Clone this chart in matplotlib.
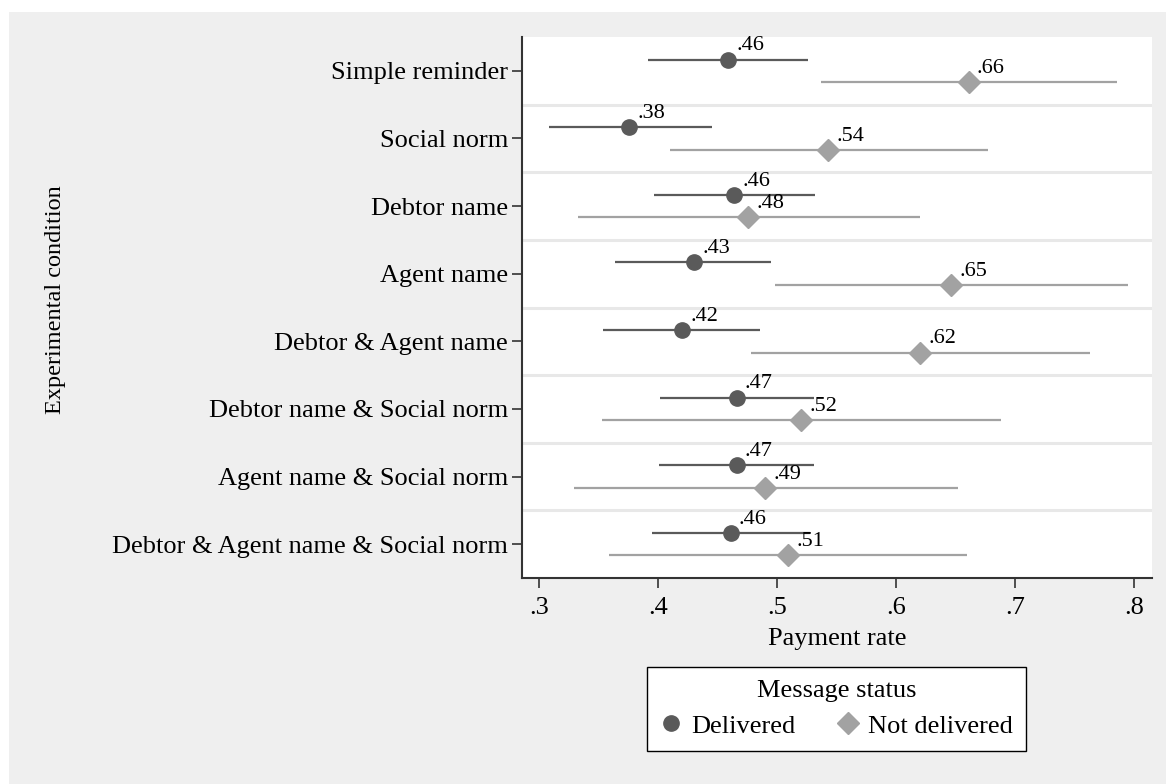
# Payment rate by experimental condition, split by message delivery status

import numpy as np
import matplotlib.pyplot as plt
from matplotlib.patches import Rectangle

plt.rcParams['font.family'] = ['Liberation Serif', 'DejaVu Serif']

# Point estimates and 95% confidence bounds
conditions = ['Simple reminder', 'Social norm', 'Debtor name', 'Agent name',
              'Debtor & Agent name', 'Debtor name & Social norm',
              'Agent name & Social norm', 'Debtor & Agent name & Social norm']
delivered = [0.459, 0.376, 0.464, 0.430, 0.420, 0.466, 0.466, 0.461]
delivered_lo = [0.392, 0.308, 0.397, 0.364, 0.354, 0.402, 0.401, 0.395]
delivered_hi = [0.526, 0.445, 0.532, 0.495, 0.486, 0.531, 0.531, 0.528]
not_delivered = [0.661, 0.543, 0.476, 0.646, 0.620, 0.520, 0.490, 0.509]
not_delivered_lo = [0.537, 0.410, 0.333, 0.498, 0.478, 0.353, 0.329, 0.359]
not_delivered_hi = [0.786, 0.677, 0.620, 0.795, 0.763, 0.688, 0.652, 0.660]
xticks = [0.3, 0.4, 0.5, 0.6, 0.7, 0.8]

dark = '#5a5a5a'
light = '#a2a2a2'
bg = '#efefef'

fig = plt.figure(figsize=(11.66, 7.84), dpi=100)
fig.patch.set_facecolor('white')
fig.patches.append(Rectangle((9 / 1166, 0), 1, 1 - 12 / 784, transform=fig.transFigure,
                             facecolor=bg, edgecolor='none', zorder=-10))

ax = fig.add_axes([522 / 1166, 1 - 578 / 784, (1152 - 522) / 1166, (578 - 37) / 784])
ax.set_facecolor('white')

y = np.arange(len(conditions))
off = 0.167

# band separators
for b in y[:-1] + 0.5:
    ax.axhline(b, color='#e8e8e8', lw=2.2, zorder=1)

ax.hlines(y - off, delivered_lo, delivered_hi, color=dark, lw=1.6, zorder=2)
ax.hlines(y + off, not_delivered_lo, not_delivered_hi, color=light, lw=1.6, zorder=2)
ax.plot(delivered, y - off, 'o', color=dark, ms=11, mec=dark, zorder=3, label='Delivered')
ax.plot(not_delivered, y + off, 'D', color=light, ms=11.5, mec=light, zorder=3,
        label='Not delivered')

def fmt(v, nd=2):
    return f'{v:.{nd}f}'.lstrip('0')

for vals, dy in ((delivered, -off), (not_delivered, off)):
    for i, v in enumerate(vals):
        ax.annotate(fmt(v), (v, i + dy), xytext=(6, 3), textcoords='offset points',
                    ha='left', va='bottom', fontsize=16)

ax.set_xlim(0.2857, 0.8151)
ax.set_ylim(len(conditions) - 0.5, -0.5)
ax.set_xticks(xticks)
ax.set_xticklabels([fmt(t, 1) for t in xticks], fontsize=19)
ax.set_yticks(y)
ax.set_yticklabels(conditions, fontsize=19)
ax.tick_params(axis='both', length=7, width=1.2, color='#333333', direction='out')
ax.tick_params(axis='x', pad=7)
ax.tick_params(axis='y', pad=3)

for s in ('top', 'right'):
    ax.spines[s].set_visible(False)
for s in ('left', 'bottom'):
    ax.spines[s].set_color('#333333')
    ax.spines[s].set_linewidth(1.5)

ax.set_xlabel('Payment rate', fontsize=19, labelpad=6)
fig.text(56 / 1166, 1 - 300 / 784, 'Experimental condition', rotation=90,
         ha='center', va='center', fontsize=17.5)

leg = ax.legend(loc='center', bbox_to_anchor=(836.5 / 1166, 1 - 709 / 784),
                bbox_transform=fig.transFigure, ncol=2, title='Message status',
                fontsize=19, title_fontsize=19, frameon=True, fancybox=False,
                edgecolor='black', framealpha=1, handlelength=0.8,
                handletextpad=0.35, columnspacing=1.6, borderpad=0.5,
                labelspacing=0.45)
leg.get_frame().set_linewidth(1.0)

plt.savefig('out.png', dpi=100, facecolor=fig.get_facecolor())
